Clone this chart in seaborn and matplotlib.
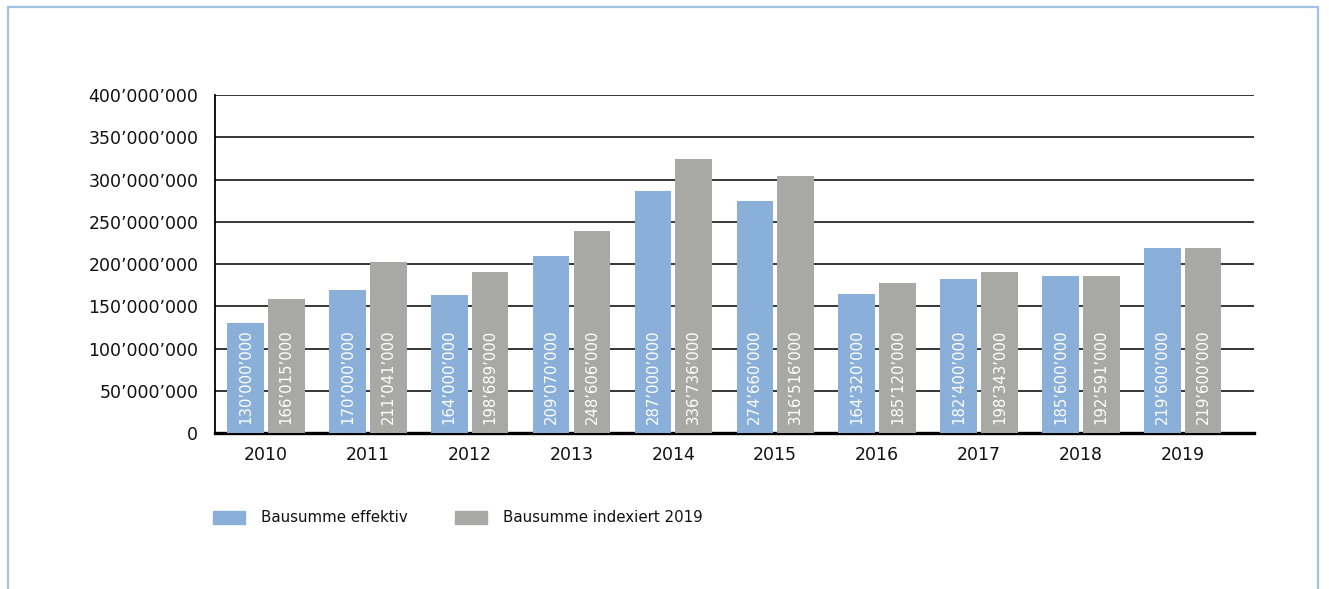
import pandas as pd
import matplotlib.pyplot as plt
import seaborn as sns
from matplotlib.lines import Line2D
from matplotlib.ticker import FuncFormatter

sns.set_style("white")
plt.rcParams['font.family'] = ['DejaVu Sans']

# Daten (Balkenhöhen wie im Original gezeichnet, Beschriftungen wie angegeben)
jahre = ['2010', '2011', '2012', '2013', '2014', '2015', '2016', '2017', '2018', '2019']
effektiv = [130_000_000, 170_000_000, 164_000_000, 209_070_000, 287_000_000,
            274_660_000, 164_320_000, 182_400_000, 185_600_000, 219_600_000]
indexiert_hoehe = [159_000_000, 202_500_000, 191_000_000, 239_000_000, 324_500_000,
                   304_500_000, 178_000_000, 191_000_000, 185_600_000, 219_600_000]
indexiert_text = [166_015_000, 211_041_000, 198_689_000, 248_606_000, 336_736_000,
                  316_516_000, 185_120_000, 198_343_000, 192_591_000, 219_600_000]
serien = ['Bausumme effektiv', 'Bausumme indexiert 2019']
farben = ['#8AB0D9', '#A8A8A4']


def fmt(v):
    return f"{int(v):,}".replace(',', '\u2019')


df = pd.DataFrame({
    'Jahr': jahre * 2,
    'Wert': effektiv + indexiert_hoehe,
    'Serie': [serien[0]] * len(jahre) + [serien[1]] * len(jahre),
})

fig = plt.figure(figsize=(13.29, 5.89), dpi=100)
ax = fig.add_axes([215 / 1329, 1 - 433.3 / 589, (1254 - 215) / 1329, (433.3 - 95) / 589])

sns.barplot(data=df, x='Jahr', y='Wert', hue='Serie', palette=farben,
            width=0.8, gap=0.1, saturation=1, linewidth=0, ax=ax, zorder=3)

ax.set_ylim(0, 400_000_000)
ax.set_xlim(-0.5, 9.7)
ax.set_yticks(range(0, 400_000_001, 50_000_000))
ax.yaxis.set_major_formatter(FuncFormatter(lambda v, p: fmt(v)))
ax.grid(axis='y', color='black', linewidth=1.1, zorder=0)
ax.set_axisbelow(True)
ax.set_xlabel('')
ax.set_ylabel('')
for s in ['top', 'right']:
    ax.spines[s].set_visible(False)
ax.spines['left'].set_color('black')
ax.spines['left'].set_linewidth(1.3)
ax.spines['bottom'].set_color('black')
ax.spines['bottom'].set_linewidth(2.4)
ax.tick_params(axis='y', length=0, pad=12, labelsize=12.5, colors='#111111')
ax.tick_params(axis='x', length=0, pad=9, labelsize=12.5, colors='#111111')

# Beschriftungen in den Balken
texte = [effektiv, indexiert_text]
for cont, werte in zip(ax.containers, texte):
    for bar, v in zip(cont, werte):
        ax.annotate(fmt(v), (bar.get_x() + bar.get_width() / 2, 0),
                    xytext=(0, 7), textcoords='offset points',
                    rotation=90, ha='center', va='bottom',
                    color='white', fontsize=10.7, zorder=4)

ax.legend_.remove()
handles = [plt.Rectangle((0, 0), 1, 1, color=c) for c in farben]
fig.legend(handles, serien, loc='center left', bbox_to_anchor=(213 / 1329, 1 - 518 / 589),
           ncol=2, frameon=False, fontsize=10.8, handlelength=2.13, handleheight=1.0,
           handletextpad=1.07, columnspacing=3.15, borderpad=0, borderaxespad=0,
           labelcolor='#111111')

# Rahmen
rahmen = '#A3C0E6'
fig.add_artist(Line2D([8 / 1329, 8 / 1329], [0, 1 - 7 / 589], color=rahmen, lw=1.6))
fig.add_artist(Line2D([1318 / 1329, 1318 / 1329], [0, 1 - 7 / 589], color=rahmen, lw=1.6))
fig.add_artist(Line2D([8 / 1329, 1318 / 1329], [1 - 7 / 589, 1 - 7 / 589], color=rahmen, lw=1.6))

fig.savefig('out.png', dpi=100)
